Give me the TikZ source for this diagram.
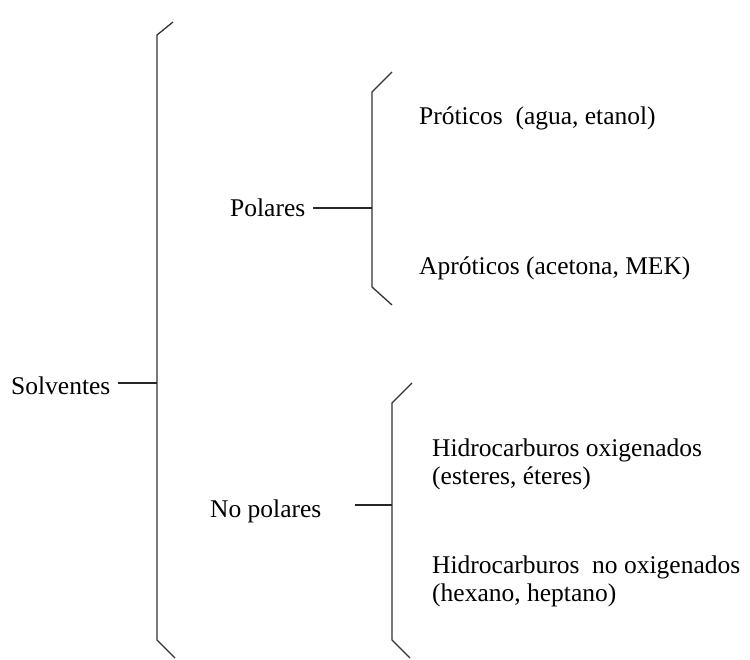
\documentclass[tikz,border=0pt]{standalone}
\usepackage{fontspec}
\setmainfont{Liberation Serif}
\begin{document}
\begin{tikzpicture}[x=1pt,y=-1pt,
  lbl/.style={anchor=base west,inner sep=0pt,font=\fontsize{25.5}{28.5}\selectfont},
  brk/.style={draw=black!80,line width=1.3pt,line join=miter},
  conn/.style={draw=black!85,line width=1.2pt}]
\useasboundingbox (0,0) rectangle (750,660);
% labels
\node[lbl] (solv) at (11,395) {Solventes};
\node[lbl] (pol) at (230,217) {Polares};
\node[lbl] (nopol) at (210,517) {No polares};
\node[lbl] (prot) at (419,125) {Próticos\ \ (agua, etanol)};
\node[lbl] (aprot) at (419,275) {Apróticos (acetona, MEK)};
\node[lbl] (ox1) at (432,456) {Hidrocarburos oxigenados};
\node[lbl] (ox2) at (432,484) {(esteres, éteres)};
\node[lbl] (nox1) at (432,573) {Hidrocarburos\ \ no oxigenados};
\node[lbl] (nox2) at (432,601) {(hexano, heptano)};
% brackets
\coordinate (bigmid) at (157,383);
\coordinate (polmid) at (372,208);
\coordinate (nopmid) at (392,505);
\draw[brk] (173,22) -- (157,35) -- (157,640) -- (175,658);
\draw[brk] (392,72) -- (372,92) -- (372,287) -- (392,305);
\draw[brk] (412,383) -- (392,403) -- (392,640) -- (410,658);
% connectors
\coordinate (solvl) at (118,383);
\coordinate (poll) at (313,208);
\coordinate (nopl) at (355,505);
\draw[conn] (solvl) -- (bigmid);
\draw[conn] (poll) -- (polmid);
\draw[conn] (nopl) -- (nopmid);
\end{tikzpicture}
\end{document}
